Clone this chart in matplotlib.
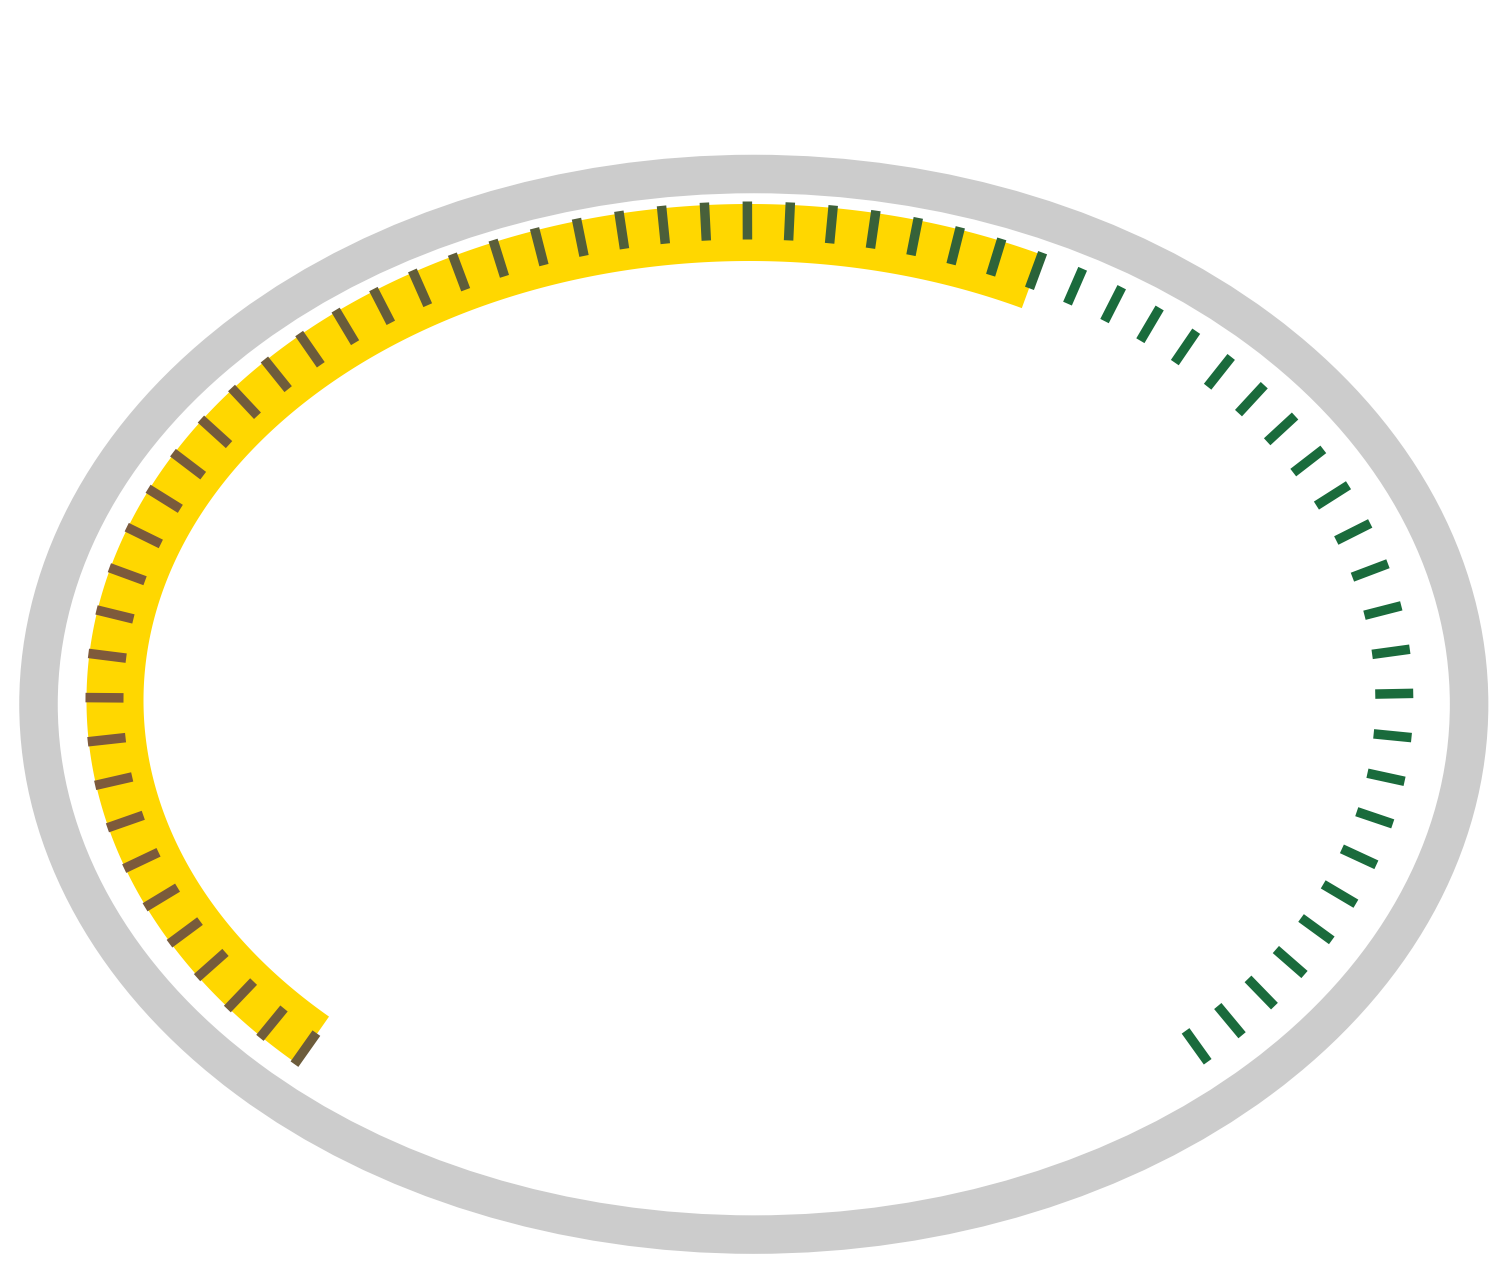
import numpy as np
import matplotlib
matplotlib.use("Agg")
import matplotlib.pyplot as plt
from matplotlib.patches import Ellipse, Polygon
from matplotlib.collections import LineCollection

# gauge data
gauge_value = 61.3
gauge_min = 0
gauge_max = 100
tick_count = 63

# canvas in pixels, dpi 100 -> 0.72 pt per px
W, H = 1501, 1266
PX = 0.72

# colours
track_color = "#cccccc"
bar_color = "#ffd700"
tick_color = "#1a6b3c"
tick_on_bar_left = np.array([127, 90, 59]) / 255
tick_on_bar_right = np.array([42, 99, 57]) / 255
grad_x0, grad_x1 = 104, 1040

# geometry (pixels)
track_center = (753.8, 704.3)
track_rx, track_ry, track_w = 715.3, 530.3, 38.5
gauge_cx, gauge_cy = 749.4, 700.5
tick_rx, tick_ry = 644.9, 480.0
tick_len, tick_w = 38.0, 9.5
tick_step = 42.07
tick_shift = -2.0
bar_rx, bar_ry, bar_w = 634.4, 468.0, 57.0


def ellipse_pts(rx, ry, t):
    return gauge_cx + rx * np.cos(t), gauge_cy - ry * np.sin(t)


def normals(rx, ry, t):
    nx = ry * np.cos(t)
    ny = -rx * np.sin(t)
    n = np.hypot(nx, ny)
    return nx / n, ny / n


# arc length along the tick ellipse, clockwise from the top
t_dense = np.radians(np.linspace(90 + 200, 90 - 200, 20001))
xd, yd = ellipse_pts(tick_rx, tick_ry, t_dense)
s_dense = np.concatenate([[0], np.cumsum(np.hypot(np.diff(xd), np.diff(yd)))])
s_dense -= np.interp(np.pi / 2, t_dense[::-1], s_dense[::-1])


def t_at(s):
    return np.interp(s, s_dense, t_dense)


tick_s = (np.arange(tick_count) - (tick_count - 1) / 2) * tick_step + tick_shift
tick_t = t_at(tick_s)

frac = (gauge_value - gauge_min) / (gauge_max - gauge_min)
s_start = tick_s[0]
s_end = tick_s[0] + frac * (tick_s[-1] - tick_s[0])

fig = plt.figure(figsize=(W / 100, H / 100), dpi=100)
ax = fig.add_axes([0, 0, 1, 1])
ax.set_xlim(0, W)
ax.set_ylim(H, 0)
ax.axis("off")

# grey track
ax.add_patch(Ellipse(track_center, 2 * track_rx, 2 * track_ry, fill=False,
                     lw=track_w * PX, ec=track_color))

# yellow progress band
tb = t_at(np.linspace(s_start, s_end, 600))
mx, my = ellipse_pts(bar_rx, bar_ry, tb)
nx, ny = normals(bar_rx, bar_ry, tb)
outer = np.column_stack([mx + nx * bar_w / 2, my + ny * bar_w / 2])
inner = np.column_stack([mx - nx * bar_w / 2, my - ny * bar_w / 2])
ax.add_patch(Polygon(np.vstack([outer, inner[::-1]]), closed=True,
                     fc=bar_color, ec="none"))

# ticks
px, py = ellipse_pts(tick_rx, tick_ry, tick_t)
nx, ny = normals(tick_rx, tick_ry, tick_t)
segs = []
cols = []
for i in range(tick_count):
    segs.append([(px[i] - nx[i] * tick_len / 2, py[i] - ny[i] * tick_len / 2),
                 (px[i] + nx[i] * tick_len / 2, py[i] + ny[i] * tick_len / 2)])
    if tick_s[i] <= s_end + 1:
        f = np.clip((px[i] - grad_x0) / (grad_x1 - grad_x0), 0, 1)
        cols.append(tuple(tick_on_bar_left + f * (tick_on_bar_right - tick_on_bar_left)))
    else:
        cols.append(tick_color)
ax.add_collection(LineCollection(segs, colors=cols, linewidths=tick_w * PX,
                                 capstyle="butt"))

fig.savefig("out.png", dpi=100, facecolor="white")
